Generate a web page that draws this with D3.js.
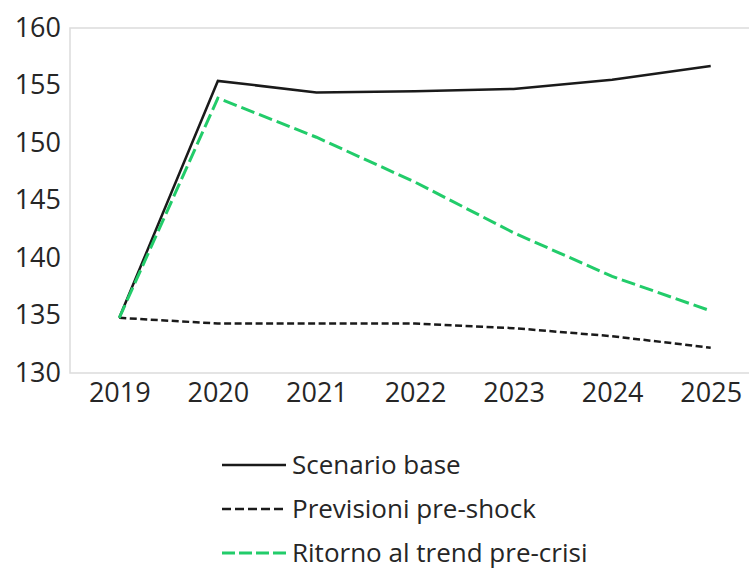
<!DOCTYPE html>
<html>
<head>
<meta charset="utf-8">
<script src="https://cdn.jsdelivr.net/npm/d3@7"></script>
<style>
  body { margin: 0; background: #fff; overflow: hidden; }
  svg { display: block; }
  text { font-family: "Open Sans", Lato, sans-serif; fill: #262626; }
</style>
</head>
<body>
<svg width="749" height="568"></svg>
<script>
const years = ['2019', '2020', '2021', '2022', '2023', '2024', '2025']
const scenarioBase = [134.8, 155.4, 154.4, 154.5, 154.7, 155.5, 156.7]
const previsioni = [134.8, 134.3, 134.3, 134.3, 133.9, 133.2, 132.2]
const ritorno = [134.8, 153.9, 150.5, 146.6, 142.2, 138.4, 135.4]
const yTicks = [130, 135, 140, 145, 150, 155, 160]

const series = [
    { name: 'Scenario base', values: scenarioBase, color: '#1a1a1a', width: 2.5, dash: null, legendDash: null },
    { name: 'Previsioni pre-shock', values: previsioni, color: '#1a1a1a', width: 2.5, dash: '7,3.5', legendDash: '9,4' },
    { name: 'Ritorno al trend pre-crisi', values: ritorno, color: '#22cc6a', width: 3, dash: '14,5', legendDash: '13,4' }
]

const svg = d3.select('svg')
const margin = { left: 70, top: 28, right: -11, bottom: 195 }
const width = +svg.attr('width')
const height = +svg.attr('height')
const innerWidth = width - margin.left - margin.right
const innerHeight = height - margin.top - margin.bottom

const g = svg.append('g')
    .attr('transform', `translate(${margin.left},${margin.top})`)

const xScale = d3.scalePoint()
    .domain(years)
    .range([0, innerWidth])
    .padding(0.5)

const yScale = d3.scaleLinear()
    .domain([130, 160])
    .range([innerHeight, 0])

// frame (its right side runs off the picture, like the original)
g.append('path')
    .attr('d', `M${width - margin.left},0H0V${innerHeight}H${width - margin.left}`)
    .attr('fill', 'none')
    .attr('stroke', '#dcdcdc')
    .attr('stroke-width', 1.5)

const yAxis = g.append('g')
    .call(d3.axisLeft(yScale).tickValues(yTicks).tickSize(0).tickPadding(9))
yAxis.select('.domain').remove()
yAxis.selectAll('text')
    .attr('font-size', 27)
    .attr('dy', '0.3em')

const xAxis = g.append('g')
    .attr('transform', `translate(0,${innerHeight})`)
    .call(d3.axisBottom(xScale).tickSize(0).tickPadding(10))
xAxis.select('.domain').remove()
xAxis.selectAll('text')
    .attr('font-size', 27)

const line = d3.line()
    .x((d, i) => xScale(years[i]))
    .y(d => yScale(d))

series.forEach(s => {
    g.append('path')
        .datum(s.values)
        .attr('d', line)
        .attr('fill', 'none')
        .attr('stroke', s.color)
        .attr('stroke-width', s.width)
        .attr('stroke-dasharray', s.dash)
        .attr('stroke-linejoin', 'miter')
})

// legend
const legend = svg.append('g')
    .attr('transform', 'translate(222,465)')

series.forEach((s, i) => {
    const row = legend.append('g')
        .attr('transform', `translate(0,${i * 44})`)
    row.append('line')
        .attr('x1', 0)
        .attr('x2', 64)
        .attr('stroke', s.color)
        .attr('stroke-width', s.width)
        .attr('stroke-dasharray', s.legendDash)
    row.append('text')
        .attr('x', 70)
        .attr('dy', '0.35em')
        .attr('font-size', 26)
        .text(s.name)
})
</script>
</body>
</html>
